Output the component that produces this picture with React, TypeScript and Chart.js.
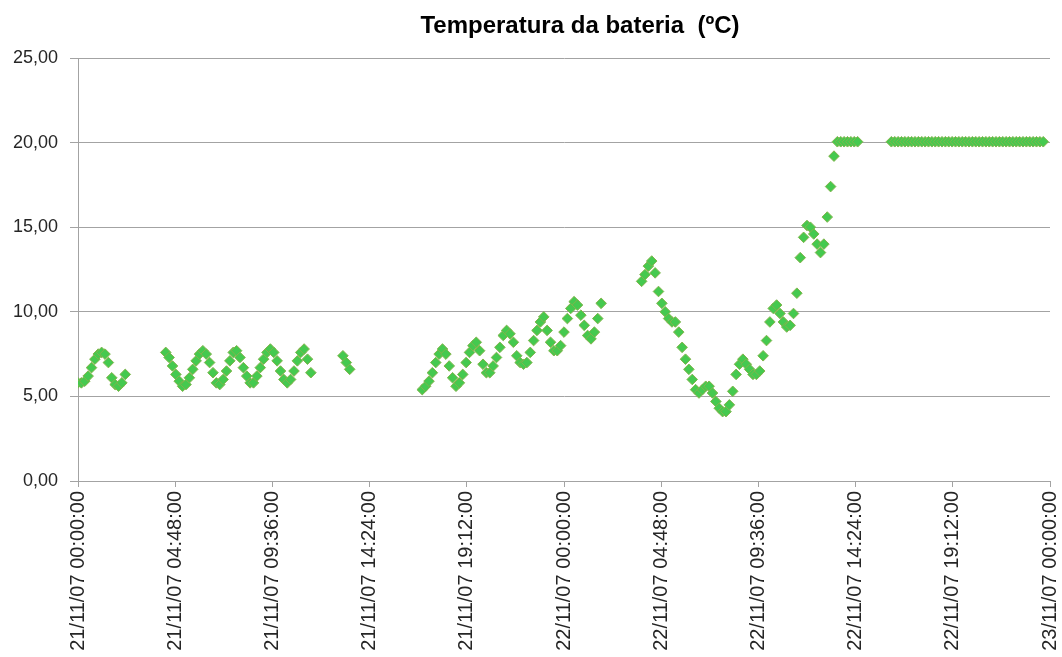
import React, { useEffect, useRef } from "react";
import { Chart, registerables } from "chart.js";

Chart.register(...registerables);

const TITLE = "Temperatura da bateria  (ºC)";

const X_TICK_HOURS = [0, 4.8, 9.6, 14.4, 19.2, 24, 28.8, 33.6, 38.4, 43.2, 48];
const X_TICK_LABELS = [
  "21/11/07 00:00:00",
  "21/11/07 04:48:00",
  "21/11/07 09:36:00",
  "21/11/07 14:24:00",
  "21/11/07 19:12:00",
  "22/11/07 00:00:00",
  "22/11/07 04:48:00",
  "22/11/07 09:36:00",
  "22/11/07 14:24:00",
  "22/11/07 19:12:00",
  "23/11/07 00:00:00",
];
const Y_MIN = 0;
const Y_MAX = 25;
const Y_STEP = 5;

// sampling interval of the logger (minutes) and the start hour of each logged run
const SAMPLE_MINUTES = 10;
const SEGMENT_START_HOURS = [0, 4.333, 13.083, 17.0, 27.833, 40.167];

const seg1 = [5.8, 5.8, 5.9, 6.2, 6.7, 7.2, 7.5, 7.6, 7.5, 7.0, 6.1, 5.7, 5.6, 5.8, 6.3];
const seg2 = [
  7.6, 7.3, 6.8, 6.3, 5.9, 5.6, 5.7, 6.1, 6.6, 7.1, 7.5, 7.7, 7.5, 7.0, 6.4, 5.8,
  5.7, 6.0, 6.5, 7.1, 7.6, 7.7, 7.3, 6.7, 6.2, 5.8, 5.8, 6.2, 6.7, 7.2, 7.6, 7.8,
  7.6, 7.1, 6.5, 6.0, 5.8, 6.0, 6.5, 7.1, 7.6, 7.8, 7.2, 6.4,
];
const seg3 = [7.4, 7.0, 6.6];
const seg4 = [
  5.4, 5.6, 5.9, 6.4, 7.0, 7.5, 7.8, 7.5, 6.8, 6.1, 5.6, 5.8, 6.3, 7.0, 7.6, 8.0,
  8.2, 7.7, 6.9, 6.4, 6.4, 6.8, 7.3, 7.9, 8.6, 8.9, 8.7, 8.2, 7.4, 7.0, 6.9, 7.0,
  7.6, 8.3, 8.9, 9.4, 9.7, 8.9, 8.2, 7.7, 7.7, 8.0, 8.8, 9.6, 10.2, 10.6, 10.4, 9.8,
  9.2, 8.6, 8.4, 8.8, 9.6, 10.5,
];
const seg5 = [
  11.8, 12.2, 12.7, 13.0, 12.3, 11.2, 10.5, 10.0, 9.6, 9.4, 9.4, 8.8, 7.9, 7.2, 6.6, 6.0,
  5.4, 5.2, 5.4, 5.6, 5.6, 5.2, 4.7, 4.3, 4.1, 4.1, 4.5, 5.3, 6.3, 6.9, 7.2, 6.9,
  6.6, 6.3, 6.3, 6.5, 7.4, 8.3, 9.4, 10.2, 10.4, 9.9, 9.4, 9.1, 9.2, 9.9, 11.1, 13.2,
  14.4, 15.1, 15.0, 14.6, 14.0, 13.5, 14.0, 15.6, 17.4, 19.2, 20.05, 20.05, 20.05, 20.05,
  20.05, 20.05, 20.05,
];
const seg6 = [
  20.05, 20.05, 20.05, 20.05, 20.05, 20.05, 20.05, 20.05, 20.05, 20.05, 20.05, 20.05,
  20.05, 20.05, 20.05, 20.05, 20.05, 20.05, 20.05, 20.05, 20.05, 20.05, 20.05, 20.05,
  20.05, 20.05, 20.05, 20.05, 20.05, 20.05, 20.05, 20.05, 20.05, 20.05, 20.05, 20.05,
  20.05, 20.05, 20.05, 20.05, 20.05, 20.05, 20.05, 20.05, 20.05, 20.05,
];
const SEGMENTS = [seg1, seg2, seg3, seg4, seg5, seg6];

const MARKER_FILL = "#45c94f";
const MARKER_EDGE = "#82b44c";
const AXIS_GRAY = "#a3a3a3";
const TEXT_COLOR = "#262626";

function buildPoints() {
  const pts: { x: number; y: number }[] = [];
  SEGMENTS.forEach((vals, s) => {
    const start = SEGMENT_START_HOURS[s];
    vals.forEach((v, i) => {
      pts.push({ x: start + (i * SAMPLE_MINUTES) / 60, y: v });
    });
  });
  return pts;
}

export default function App() {
  const canvasRef = useRef<HTMLCanvasElement | null>(null);

  useEffect(() => {
    document.body.style.margin = "0";
    const canvas = canvasRef.current;
    if (!canvas) return;
    const chart = new Chart(canvas, {
      type: "scatter",
      data: {
        datasets: [
          {
            data: buildPoints(),
            pointStyle: "rectRot",
            pointRadius: 5.3,
            pointHoverRadius: 5.3,
            backgroundColor: MARKER_FILL,
            borderColor: MARKER_EDGE,
            borderWidth: 1,
            showLine: false,
          },
        ],
      },
      options: {
        animation: false,
        responsive: true,
        maintainAspectRatio: false,
        layout: { padding: { top: 58, right: 12, left: 0, bottom: 0 } },
        plugins: {
          legend: { display: false },
          tooltip: { enabled: false },
          title: { display: false },
        },
        scales: {
          x: {
            type: "linear",
            min: 0,
            max: 48,
            afterFit: (s: any) => {
              s.height = 176;
              s.paddingRight = 0;
              s.paddingLeft = 0;
            },
            afterBuildTicks: (s: any) => {
              s.ticks = X_TICK_HOURS.map((v) => ({ value: v }));
            },
            ticks: {
              autoSkip: false,
              maxRotation: 90,
              minRotation: 90,
              padding: 4,
              color: TEXT_COLOR,
              font: { family: "'Liberation Sans', Arial, sans-serif", size: 20 },
              callback: (_v: any, i: number) => X_TICK_LABELS[i],
            },
            grid: { drawOnChartArea: false, tickLength: 6, color: AXIS_GRAY },
            border: { color: AXIS_GRAY },
          },
          y: {
            min: Y_MIN,
            max: Y_MAX,
            afterFit: (s: any) => {
              s.width = 78;
            },
            ticks: {
              stepSize: Y_STEP,
              padding: 12,
              color: TEXT_COLOR,
              font: { family: "'Liberation Sans', Arial, sans-serif", size: 18 },
              callback: (v: any) => Number(v).toFixed(2).replace(".", ","),
            },
            grid: { color: AXIS_GRAY, tickLength: 8 },
            border: { color: AXIS_GRAY },
          },
        },
      },
    });
    return () => chart.destroy();
  }, []);

  return (
    <div style={{ position: "relative", width: 1062, height: 657 }}>
      <div
        style={{
          position: "absolute",
          top: 10,
          left: 280,
          width: 600,
          textAlign: "center",
          fontFamily: "'Liberation Sans', Arial, sans-serif",
          fontWeight: "bold",
          fontSize: 24,
          color: "#000",
          whiteSpace: "pre",
          lineHeight: "30px",
        }}
      >
        {TITLE}
      </div>
      <canvas ref={canvasRef} />
    </div>
  );
}
